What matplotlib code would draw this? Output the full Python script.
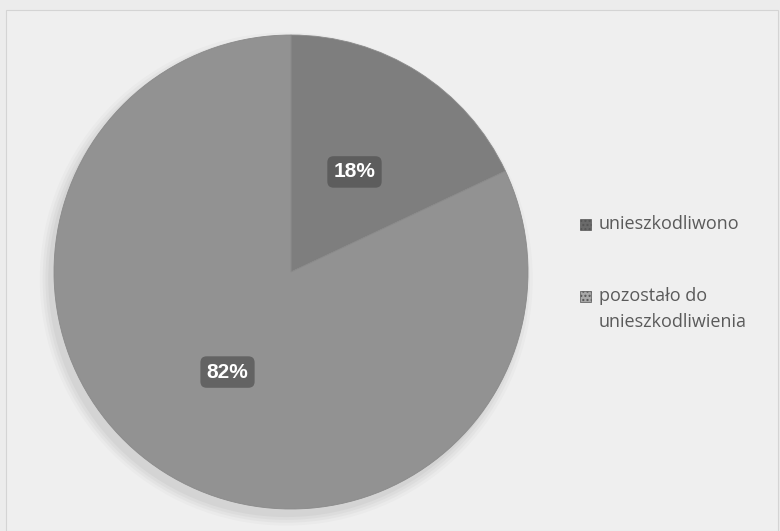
import matplotlib.pyplot as plt
from matplotlib.patches import Circle, Rectangle

# dane wykresu
kategorie = ["unieszkodliwono", "pozostało do\nunieszkodliwienia"]
udzialy = [18, 82]
kolory = ["#7e7e7e", "#929292"]
kolory_legendy = ["#6a6a6a", "#a8a8a8"]

fig = plt.figure(figsize=(7.8, 5.31), dpi=100, facecolor="#ececec")

# obszar wykresu (jasna ramka)
fig.patches.append(Rectangle((6 / 780, 0), 772 / 780, 521 / 531,
                             transform=fig.transFigure, fc="#efefef",
                             ec="#d4d4d4", lw=0.8, zorder=-5))

# koło - środek (291, 272), promień 237 px
r = 237
ax = fig.add_axes([(291 - r) / 780, (531 - 272 - r) / 531, 2 * r / 780, 2 * r / 531])
ax.set_zorder(2)

# miękki cień pod kołem
for i, a in enumerate([0.04, 0.05, 0.06, 0.07]):
    ax.add_patch(Circle((-0.02, -0.03), 1.04 - i * 0.012, fc="#707070",
                        ec="none", alpha=a, zorder=0, clip_on=False))

wedges, texts, autotexts = ax.pie(
    udzialy, colors=kolory, startangle=90, counterclock=False,
    autopct="%d%%", pctdistance=0.5, radius=1,
    wedgeprops=dict(edgecolor="#8a8a8a", linewidth=0.6),
    textprops=dict(color="white", fontsize=15, fontweight="bold",
                   family=["Liberation Sans", "DejaVu Sans"]))
for t in autotexts:
    t.set_bbox(dict(boxstyle="round,pad=0.3", fc="#505050", ec="none", alpha=0.7))

ax.set_xlim(-1, 1)
ax.set_ylim(-1, 1)
ax.set_aspect("equal")
ax.axis("off")

# legenda po prawej (znacznik przy pierwszym wierszu)
legenda_y = [224, 296]
for kat, kol, y in zip(kategorie, kolory_legendy, legenda_y):
    fig.patches.append(Rectangle((580 / 780, 1 - (y + 6) / 531), 11 / 780, 11 / 531,
                                 transform=fig.transFigure, fc=kol, ec="#555555",
                                 lw=0.5, hatch="...."))
    fig.text(599 / 780, 1 - (y - 9) / 531, kat, ha="left", va="top",
             color="#5a5a5a", family="Open Sans", fontsize=13, linespacing=1.6)

fig.savefig("out.png", dpi=100, facecolor=fig.get_facecolor())
